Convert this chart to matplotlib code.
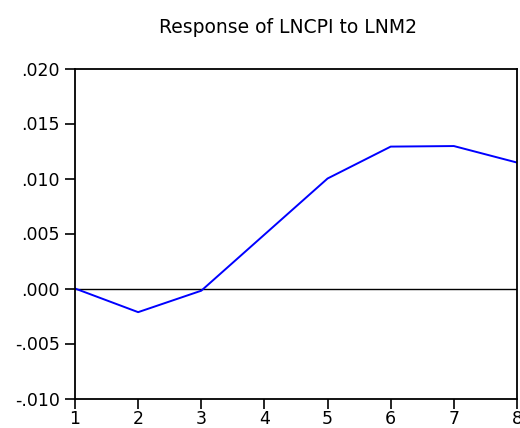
import matplotlib
matplotlib.use("Agg")
import matplotlib.pyplot as plt

# impulse response of LNCPI to a shock in LNM2
periods = [1, 2, 3, 4, 5, 6, 7, 8]
response = [0.0, -0.00215, -0.0002, 0.0049, 0.0100, 0.0129, 0.01295, 0.01145]

yticks = [-0.010, -0.005, 0.000, 0.005, 0.010, 0.015, 0.020]
ytick_labels = ["-.010", "-.005", ".000", ".005", ".010", ".015", ".020"]

plt.rcParams["font.family"] = ["DejaVu Sans"]

fig = plt.figure(figsize=(5.2, 4.28), dpi=100)
ax = fig.add_axes([75 / 520, 29.5 / 428, 442 / 520, 330 / 428])

ax.axhline(0, color="black", linewidth=1.0)
ax.plot(periods, response, color="#0000ff", linewidth=1.4)

ax.set_xlim(1, 8)
ax.set_ylim(-0.010, 0.020)
ax.set_xticks(periods)
ax.set_yticks(yticks)
ax.set_yticklabels(ytick_labels)
ax.tick_params(direction="out", length=7, width=1.2, labelsize=12.5)
ax.tick_params(axis="y", pad=4)
ax.tick_params(axis="x", pad=1.5)
for s in ax.spines.values():
    s.set_linewidth(1.3)

fig.text(288 / 520, 1 - 33 / 428, "Response of LNCPI to LNM2",
         ha="center", va="baseline", fontsize=13.5)

fig.savefig("out.png", dpi=100)
